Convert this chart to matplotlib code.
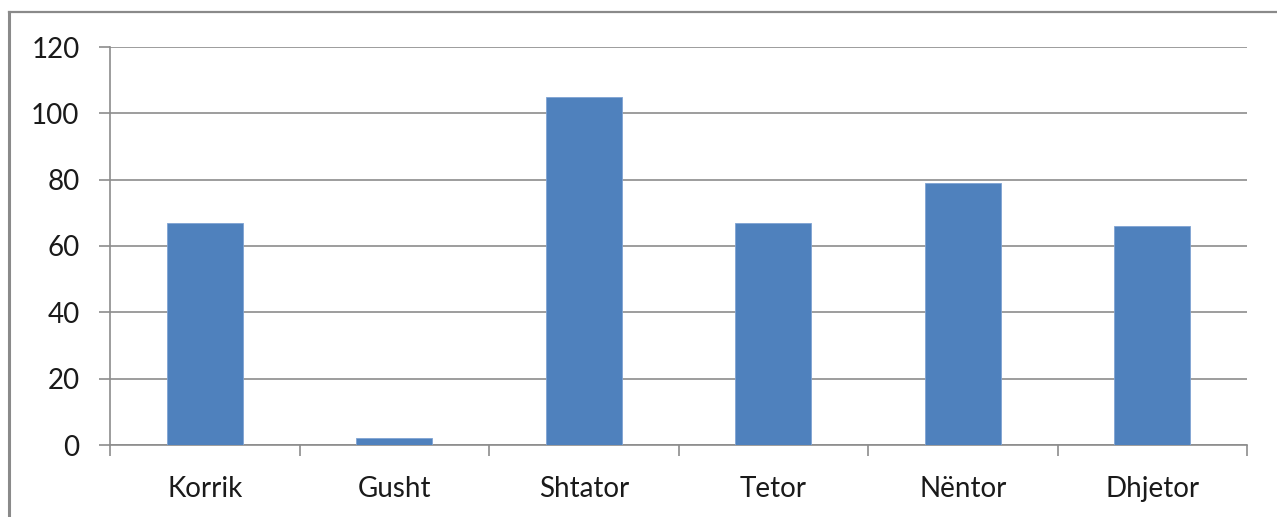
import matplotlib
matplotlib.use("Agg")
import matplotlib.pyplot as plt
from matplotlib.lines import Line2D
import numpy as np

plt.rcParams['font.family'] = ['Lato', 'DejaVu Sans']

months = ["Korrik", "Gusht", "Shtator", "Tetor", "Nëntor", "Dhjetor"]
values = [67, 2, 105, 67, 79, 66]
y_ticks = [0, 20, 40, 60, 80, 100, 120]

W, H = 1277, 517
fig = plt.figure(figsize=(W / 100, H / 100), dpi=100)
ax = fig.add_axes([110 / W, 72 / H, (1247 - 110) / W, (445 - 47) / H])

grid_c = '#8c8c8c'
text_c = '#1a1a1a'

x = np.arange(len(months))
ax.bar(x, values, width=0.4, color='#4f81bd', edgecolor='#7fa3d3', linewidth=0.6, zorder=3)

ax.set_xlim(-0.5, len(months) - 0.5)
ax.set_ylim(0, 120)
ax.set_yticks(y_ticks)
ax.set_yticklabels([str(v) for v in y_ticks])
ax.yaxis.grid(True, color=grid_c, linewidth=1.2, zorder=0)

# category boundaries as major ticks, labels on minor ticks at centres
ax.set_xticks(np.arange(len(months) + 1) - 0.5)
ax.set_xticklabels([])
ax.set_xticks(x, minor=True)
ax.set_xticklabels(months, minor=True)
ax.tick_params(axis='x', which='major', length=8, width=1.2, color=grid_c, direction='out')
ax.tick_params(axis='x', which='minor', length=0, pad=22, labelsize=20, labelcolor=text_c)
ax.tick_params(axis='y', length=8, width=1.2, color=grid_c, pad=14, labelsize=20, labelcolor=text_c)

for s in ['top', 'right']:
    ax.spines[s].set_visible(False)
for s in ['left', 'bottom']:
    ax.spines[s].set_color(grid_c)
    ax.spines[s].set_linewidth(1.2)

# outer chart frame (left and top edges only visible)
fig.add_artist(Line2D([8.5 / W, 8.5 / W], [0, 1 - 11.5 / H], transform=fig.transFigure,
                      color='#8a8a8a', linewidth=2.2))
fig.add_artist(Line2D([8.5 / W, 1], [1 - 11.5 / H, 1 - 11.5 / H], transform=fig.transFigure,
                      color='#8a8a8a', linewidth=1.6))

fig.savefig("out.png", dpi=100)
